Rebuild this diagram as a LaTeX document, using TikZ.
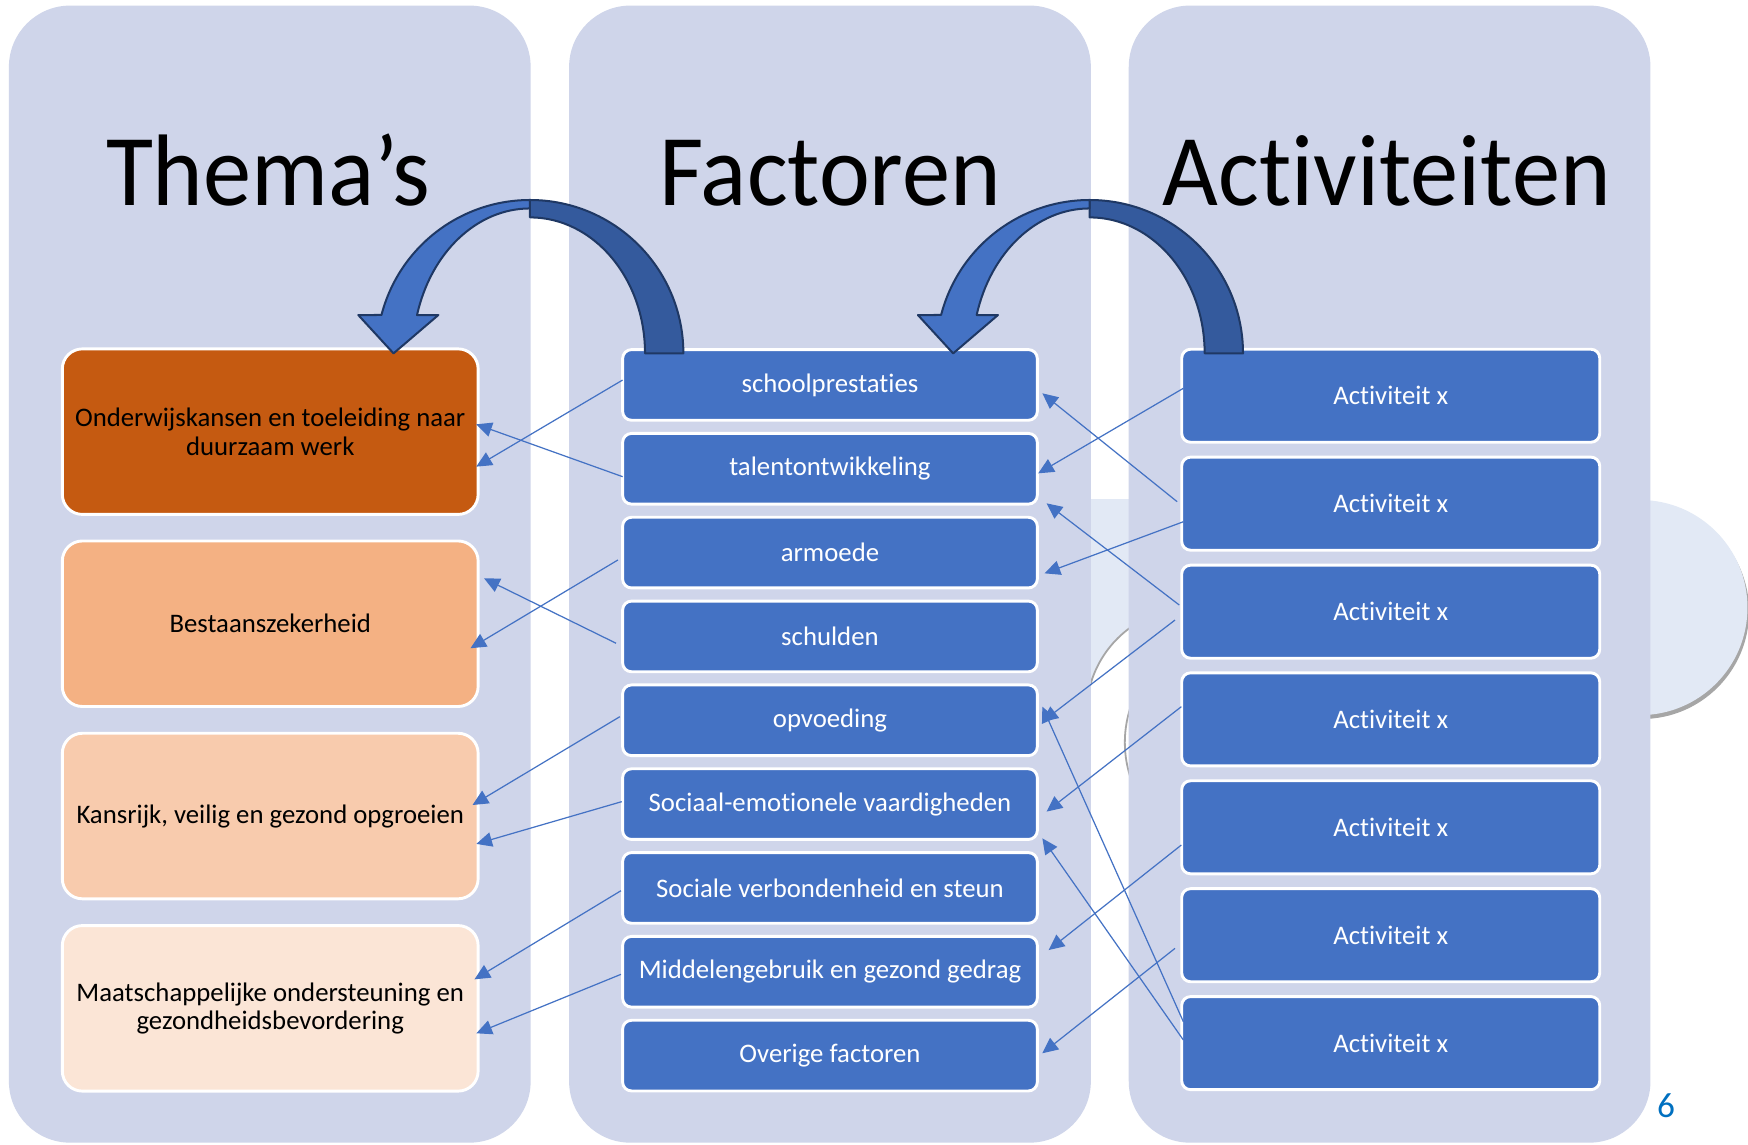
\documentclass[tikz,border=0pt]{standalone}
\usepackage{fontspec}
\setmainfont{Carlito}[Ligatures={NoCommon,NoRequired,NoContextual}]
\usetikzlibrary{arrows.meta,calc}
\definecolor{colbg}{HTML}{CFD5EA}
\definecolor{boxblue}{HTML}{4472C4}
\definecolor{backblue}{HTML}{345A9D}
\definecolor{navy}{HTML}{1F3864}
\definecolor{thA}{HTML}{C55A11}
\definecolor{thB}{HTML}{F4B183}
\definecolor{thC}{HTML}{F8CBAD}
\definecolor{thD}{HTML}{FBE5D6}
\definecolor{lightc}{HTML}{E2E9F5}
\definecolor{shadowgray}{HTML}{A6A6A6}
\definecolor{pgnum}{HTML}{0070C0}
\newcommand{\bxfont}{\fontsize{12}{12.85}\selectfont}
\newcommand{\ttlfont}{\fontsize{45.6}{50}\selectfont}
\newcommand{\mytitle}[1]{\scalebox{0.948}[1]{#1}}
\tikzset{
  kolom/.style={fill=colbg, draw=none, rounded corners=27.5pt, minimum width=234pt, minimum height=510pt, inner sep=0pt, outer sep=0pt},
  themabox/.style={draw=white, line width=1.3pt, rounded corners=9pt, minimum width=186.5pt, minimum height=74.25pt, inner sep=0pt, outer sep=0pt, align=center, font=\bxfont, text=black},
  factorbox/.style={draw=white, line width=1.3pt, rounded corners=4pt, fill=boxblue, minimum width=186pt, minimum height=31.7pt, inner sep=0pt, outer sep=0pt, align=center, font=\bxfont, text=white},
  actbox/.style={factorbox, minimum width=187.5pt, minimum height=41.75pt},
  conn/.style={draw=boxblue, line width=0.55pt, -{Triangle[length=7pt,width=6.5pt]}},
  backarrow/.style={fill=backblue, draw=navy, line width=0.9pt, line join=round},
  frontarrow/.style={fill=boxblue, draw=navy, line width=0.9pt, line join=round},
  titel/.style={anchor=base, font=\ttlfont, text=black, inner sep=0pt},
}
\begin{document}
\begin{tikzpicture}[x=0.5pt,y=-0.5pt]
\useasboundingbox (0,0) rectangle (1568,1027);
\fill[white] (0,0) rectangle (1568,1027);

% background residue shapes
\fill[lightc] (975,447.6) rectangle (1016,650);
\fill[white] (1069.5,640) circle[radius=95];
\draw[shadowgray, line width=0.8pt] (1069.5,640) ++(-120:95) arc[start angle=-120, end angle=-185, radius=95];
\draw[shadowgray, line width=0.8pt] (1109,666) ++(155:100) arc[start angle=155, end angle=205, radius=100];
\fill[shadowgray] (1472.5,548.5) circle[radius=96.5];
\fill[lightc] (1471,545) circle[radius=96.5];

% columns
\node[kolom] (c1) at (242,515) {};
\node[kolom] (c2) at (744.5,515) {};
\node[kolom] (c3) at (1246.5,515) {};

% titles
\node[titel] (h1) at (240.7,183.9) {\mytitle{Thema’s}};
\node[titel] (h2) at (744.5,183.9) {\mytitle{Factoren}};
\node[titel] (h3) at (1243.9,183.9) {\mytitle{Activiteiten}};

% themes
\node[themabox, fill=thA] (t1) at (242.4,387.2) {Onderwijskansen en toeleiding naar\\duurzaam werk};
\node[themabox, fill=thB] (t2) at (242.4,559.5) {Bestaanszekerheid};
\node[themabox, fill=thC] (t3) at (242.4,732) {Kansrijk, veilig en gezond opgroeien};
\node[themabox, fill=thD] (t4) at (242.4,904.5) {Maatschappelijke ondersteuning en\\gezondheidsbevordering};

% factors
\node[factorbox] (m1) at (744.5,345.3) {schoolprestaties};
\node[factorbox] (m2) at (744.5,420.5) {talentontwikkeling};
\node[factorbox] (m3) at (744.5,495.7) {armoede};
\node[factorbox] (m4) at (744.5,570.9) {schulden};
\node[factorbox] (m5) at (744.5,646.1) {opvoeding};
\node[factorbox] (m6) at (744.5,721.3) {Sociaal-emotionele vaardigheden};
\node[factorbox] (m7) at (744.5,796.5) {Sociale verbondenheid en steun};
\node[factorbox] (m8) at (744.5,871.7) {Middelengebruik en gezond gedrag};
\node[factorbox] (m9) at (744.5,946.9) {Overige factoren};

% activities
\node[actbox] (a1) at (1247.5,355) {Activiteit x};
\node[actbox] (a2) at (1247.5,451.8) {Activiteit x};
\node[actbox] (a3) at (1247.5,548.7) {Activiteit x};
\node[actbox] (a4) at (1247.5,645.3) {Activiteit x};
\node[actbox] (a5) at (1247.5,742.1) {Activiteit x};
\node[actbox] (a6) at (1247.5,838.9) {Activiteit x};
\node[actbox] (a7) at (1247.5,935.7) {Activiteit x};

% connectors factors -> themes
\draw[conn] ($(m1.west)+(0,-4.4)$) -- ($(t1.east)+(-1.7,31.4)$);
\draw[conn] ($(m2.west)+(0,7.1)$) -- ($(t1.east)+(-1.7,-6.6)$);
\draw[conn] ($(m3.west)+(-4.2,6.6)$) -- ($(t2.east)+(-6.9,22)$);
\draw[conn] ($(m4.west)+(-5.9,6.1)$) -- ($(t2.east)+(5.3,-40.7)$);
\draw[conn] ($(m5.west)+(-2.5,-3.2)$) -- ($(t3.east)+(-5,-9.9)$);
\draw[conn] ($(m6.west)+(-0.8,-2.2)$) -- ($(t3.east)+(-1.6,25)$);
\draw[conn] ($(m7.west)+(-1.5,2.5)$) -- ($(t4.east)+(-3.3,-26)$);
\draw[conn] ($(m8.west)+(-1.5,2.3)$) -- ($(t4.east)+(-1.6,22.4)$);

% connectors activities -> factors
\draw[conn] ($(a1.west)+(1.5,-6.7)$) -- ($(m2.east)+(0.8,4.1)$);
\draw[conn] ($(a2.west)+(-4.1,-1.8)$) -- ($(m1.east)+(4.5,7.5)$);
\draw[conn] ($(a2.west)+(1.5,16.2)$) -- ($(m3.east)+(6.5,18.6)$);
\draw[conn] ($(a3.west)+(-2.2,-6)$) -- ($(m2.east)+(8.3,31)$);
\draw[conn] ($(a3.west)+(-6,7.5)$) -- ($(m5.east)+(4.5,1.3)$);
\draw[conn] ($(a4.west)+(-0.3,-11.4)$) -- ($(m6.east)+(8.3,6.7)$);
\draw[conn] ($(a5.west)+(-0.3,15.9)$) -- ($(m8.east)+(10.2,-19.5)$);
\draw[conn] ($(a6.west)+(-6,11.8)$) -- ($(m9.east)+(4.5,-2.1)$);
\draw[conn] ($(a7.west)+(1.5,-19.2)$) -- ($(m5.east)+(4.5,-12.2)$);
\draw[conn] ($(a7.west)+(1.5,-2.8)$) -- ($(m6.east)+(4.5,30.7)$);

% curved arrows
\foreach \dx in {0,502}{
  \begin{scope}[shift={(\dx,0)}]
    \filldraw[backarrow] (613,317) arc[start angle=0, end angle=-90, radius=137.6]
      -- (475.4,195) arc[start angle=-90, end angle=0, x radius=103.2, y radius=122] -- cycle;
    \filldraw[frontarrow] (475.4,179.4) arc[start angle=-90, end angle=-165.5, radius=137.6]
      -- (321.4,282.6) -- (353,317) -- (393.2,282.6) -- (374.1,282.6)
      arc[start angle=-164.66, end angle=-90, x radius=105, y radius=130] -- cycle;
  \end{scope}
}

% page number
\node[anchor=base, font=\fontsize{15.8}{18}\selectfont, text=pgnum, inner sep=0pt] (pg) at (1494.5,1002) {6};
\end{tikzpicture}
\end{document}
